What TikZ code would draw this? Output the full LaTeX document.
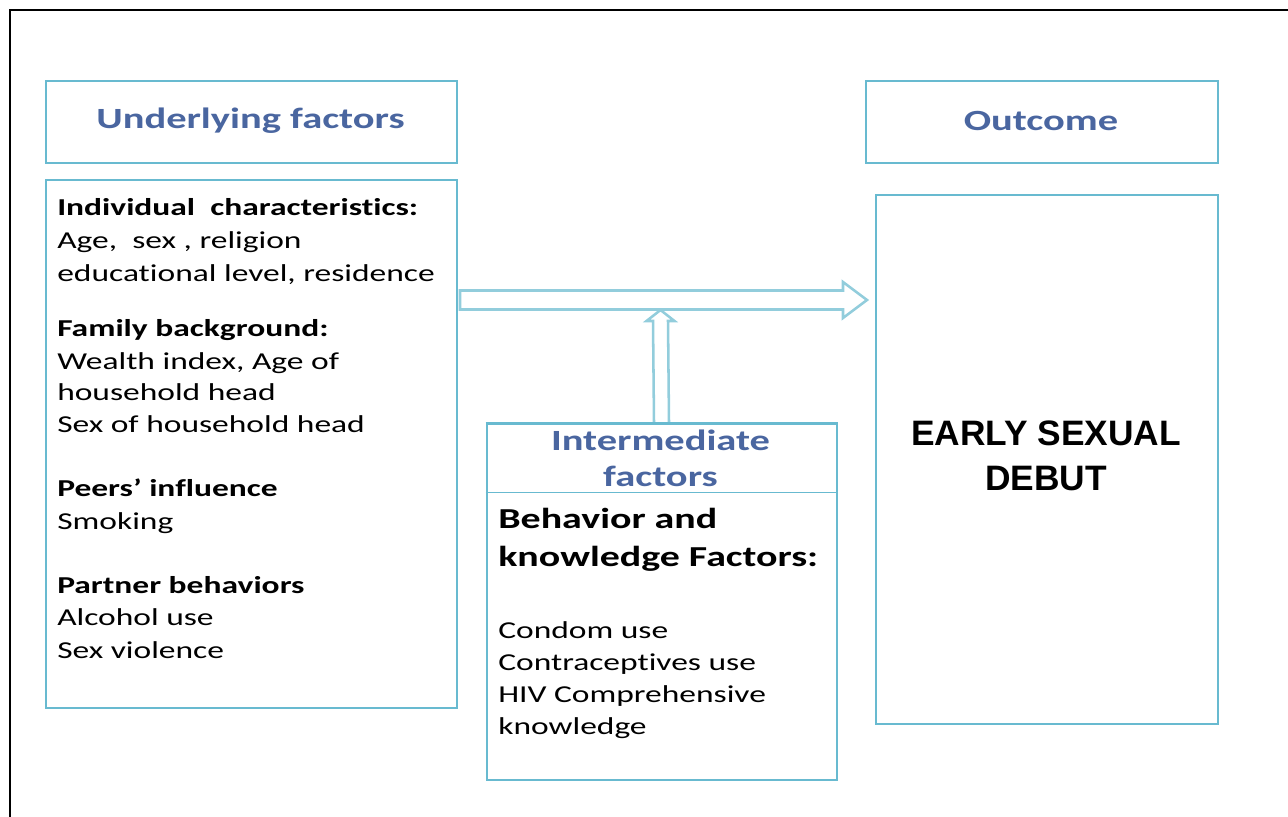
\documentclass[tikz,border=0pt]{standalone}
\usepackage{fontspec}
\setmainfont{Carlito}[FakeStretch=1.38, Ligatures=NoCommon]
\newfontfamily\capsfont{Liberation Sans}
\usetikzlibrary{calc}
\definecolor{boxline}{RGB}{104,186,208}
\definecolor{arrowline}{RGB}{146,205,220}
\definecolor{titleblue}{RGB}{74,102,160}

\begin{document}
\begin{tikzpicture}[x=0.75pt,y=-0.75pt]
\tikzset{
  panel/.style={draw=boxline, line width=1.5pt, inner sep=0pt, anchor=north west},
  title/.style={font=\fontsize{22}{26}\selectfont\bfseries, text=titleblue, inner sep=0pt, anchor=base},
  body/.style={font=\fontsize{18.2}{22}\selectfont, inner sep=0pt, anchor=base west},
  head/.style={font=\fontsize{18.2}{22}\selectfont\bfseries, inner sep=0pt, anchor=base west},
  bighead/.style={font=\fontsize{21.7}{26}\selectfont\bfseries, inner sep=0pt, anchor=base west},
  outtext/.style={font=\capsfont\bfseries\fontsize{26.5}{30}\selectfont, inner sep=0pt, anchor=base},
  hollow/.style={draw=arrowline, line width=1.9pt, fill=white, line join=miter}
}
\useasboundingbox (0,0) rectangle (1288,817);

% page frame (top and left edges)
\draw[black, line width=2pt] (10,817) -- (10,10) -- (1288,10);

% boxes
\node[panel, minimum width=411*0.75pt, minimum height=82*0.75pt] (under) at (45,80) {};
\node[panel, minimum width=411*0.75pt, minimum height=528*0.75pt] (left) at (45,178.5) {};
\node[panel, minimum width=351.5*0.75pt, minimum height=82*0.75pt] (outcome) at (865,80) {};
\node[panel, minimum width=341.5*0.75pt, minimum height=529*0.75pt] (early) at (875,193.5) {};

% hollow arrows
\coordinate (hs) at (460,300);
\coordinate (ht) at (867,300);
\coordinate (vt) at (660.5,310);
\node[panel, minimum width=350*0.75pt, minimum height=356*0.75pt] (inter) at (485.5,422.5) {};
\draw[hollow] ($(hs)+(0,-9.5)$) -- ($(ht)+(-24,-9.5)$) -- ($(ht)+(-24,-18)$) -- (ht)
  -- ($(ht)+(-24,18)$) -- ($(ht)+(-24,9.5)$) -- ($(hs)+(0,9.5)$) -- cycle;
\draw[hollow] ($(inter.north)+(-7.5,0)$) -- ($(vt)+(-7.5,11)$) -- ($(vt)+(-14,11)$) -- (vt)
  -- ($(vt)+(14,11)$) -- ($(vt)+(7.5,11)$) -- ($(inter.north)+(7.5,0)$);
\draw[boxline, line width=1.5pt] (inter.north west) -- (inter.north east);
\draw[boxline, line width=1.2pt] (inter.west |- 0,492.3) coordinate (dl) -- (inter.east |- 0,492.3) coordinate (dr);

% titles
\node[title] (tunder) at (250.5,128.3) {Underlying factors};
\node[title] (toutcome) at (1041,130) {Outcome};
\node[title] (tinter1) at (660.5,450) {Intermediate};
\node[title] (tinter2) at (660.5,486.7) {factors};

% underlying factors
\node[head] (u1) at (57,215) {Individual\ \ characteristics:};
\node[body] (u2) at (57,248.3) {Age,\ \ sex , religion};
\node[body] (u3) at (57,281) {educational level, residence};
\node[head] (u4) at (57,336.7) {Family background:};
\node[body] (u5) at (57,369) {Wealth index, Age of};
\node[body] (u6) at (57,400.7) {household head};
\node[body] (u7) at (57,432.7) {Sex of household head};
\node[head] (u8) at (57,496.7) {Peers’ influence};
\node[body] (u9) at (57,529.3) {Smoking};
\node[head] (u10) at (57,593.5) {Partner behaviors};
\node[body] (u11) at (57,625.8) {Alcohol use};
\node[body] (u12) at (57,658) {Sex violence};

% intermediate factors
\node[bighead] (i1) at (498,528.3) {Behavior and};
\node[bighead] (i2) at (498,566) {knowledge Factors:};
\node[body] (i3) at (498,638) {Condom use};
\node[body] (i4) at (498,670) {Contraceptives use};
\node[body] (i5) at (498,702) {HIV Comprehensive};
\node[body] (i6) at (498,734) {knowledge};

% outcome
\node[outtext] (o1) at (1046,445) {EARLY SEXUAL};
\node[outtext] (o2) at (1046,490) {DEBUT};
\end{tikzpicture}
\end{document}
